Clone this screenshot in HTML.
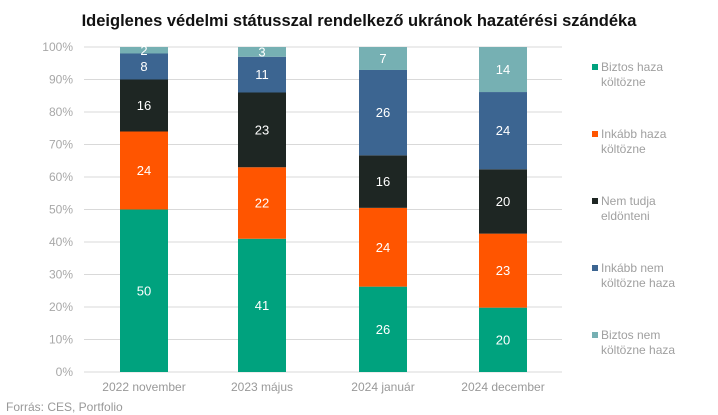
<!DOCTYPE html>
<html><head><meta charset="utf-8"><style>
body{margin:0;background:#fff;}
svg{display:block;font-family:"Liberation Sans",sans-serif;}
</style></head><body>
<svg width="718" height="415" viewBox="0 0 718 415" xmlns="http://www.w3.org/2000/svg">
<text x="359" y="26" text-anchor="middle" font-size="16.5" font-weight="bold" fill="#111">Ideiglenes védelmi státusszal rendelkező ukránok hazatérési szándéka</text>
<g id="grid" stroke="#d9d9d9" stroke-width="1"></g>
<g id="ylab" font-size="12" fill="#a8a8a8" text-anchor="end"></g>
<g id="bars"></g>
<g font-size="12" fill="#999" text-anchor="middle">
<text x="144" y="391">2022 november</text>
<text x="262" y="391">2023 május</text>
<text x="383" y="391">2024 január</text>
<text x="503" y="391">2024 december</text>
</g>
<g font-size="12" fill="#a0a0a0">
<rect x="592" y="64" width="6" height="6" fill="#00a27e"/><text x="601" y="71">Biztos haza</text><text x="601" y="86">költözne</text>
<rect x="592" y="131" width="6" height="6" fill="#ff5500"/><text x="601" y="138">Inkább haza</text><text x="601" y="153">költözne</text>
<rect x="592" y="198" width="6" height="6" fill="#1e2623"/><text x="601" y="205">Nem tudja</text><text x="601" y="220">eldönteni</text>
<rect x="592" y="265" width="6" height="6" fill="#3c6591"/><text x="601" y="272">Inkább nem</text><text x="601" y="287">költözne haza</text>
<rect x="592" y="332" width="6" height="6" fill="#76b0b3"/><text x="601" y="339">Biztos nem</text><text x="601" y="354">költözne haza</text>
</g>
<text x="6" y="411" font-size="12" fill="#999">Forrás: CES, Portfolio</text>
<script>
var ns="http://www.w3.org/2000/svg";
function el(p,t,a,txt){var e=document.createElementNS(ns,t);for(var k in a)e.setAttribute(k,a[k]);if(txt!=null)e.textContent=txt;document.getElementById(p).appendChild(e);}
var y0=372,y100=47,h=y0-y100;
for(var i=0;i<=10;i++){var y=y0-h*i/10;el("grid","line",{x1:84,x2:562,y1:y,y2:y});el("ylab","text",{x:73,y:y+4},(i*10)+"%");}
var cols=["#00a27e","#ff5500","#1e2623","#3c6591","#76b0b3"];
var data=[[50,24,16,8,2],[41,22,23,11,3],[26,24,16,26,7],[20,23,20,24,14]];
var xs=[120,238,359,479];
data.forEach(function(d,j){var s=d.reduce(function(a,b){return a+b},0);var c=0;
d.forEach(function(v,k){var yb=y0-h*c/s;c+=v;var yt=y0-h*c/s;
el("bars","rect",{x:xs[j],y:yt,width:48,height:yb-yt,fill:cols[k]});
el("bars","text",{x:xs[j]+24,y:(yt+yb)/2+4.5,"text-anchor":"middle","font-size":"13",fill:"#fff"},v);});});
</script>
</svg>
</body></html>
